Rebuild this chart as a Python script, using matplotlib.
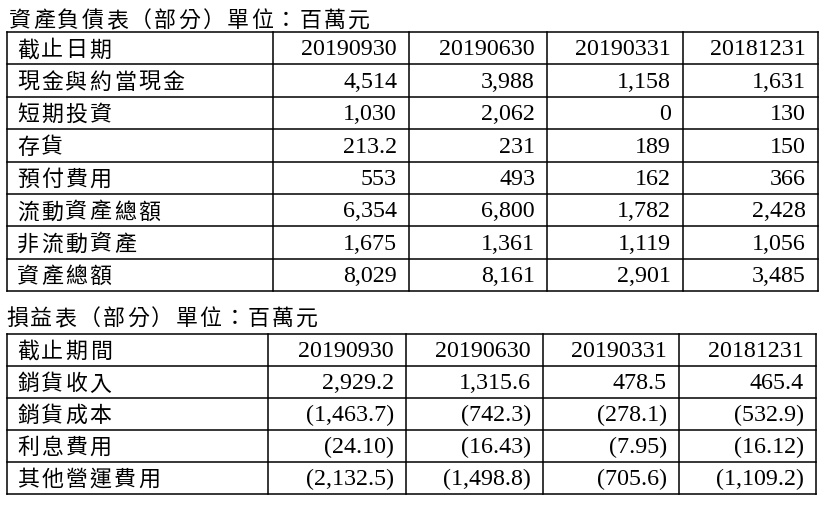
import numpy as np
import matplotlib.pyplot as plt

CJK = ['Noto Sans CJK TC', 'DejaVu Sans']
NUM = ['Liberation Serif', 'DejaVu Serif']

periods = ["20190930", "20190630", "20190331", "20181231"]

bs_title = "資產負債表（部分）單位：百萬元"
bs_head = "截止日期"
bs_items = ["現金與約當現金", "短期投資", "存貨", "預付費用",
            "流動資產總額", "非流動資產", "資產總額"]
cash = [4514, 3988, 1158, 1631]
short_inv = [1030, 2062, 0, 130]
inventory = [213.2, 231, 189, 150]
prepaid = [553, 493, 162, 366]
current_assets = [6354, 6800, 1782, 2428]
noncurrent_assets = [1675, 1361, 1119, 1056]
total_assets = [8029, 8161, 2901, 3485]

is_title = "損益表（部分）單位：百萬元"
is_head = "截止期間"
is_items = ["銷貨收入", "銷貨成本", "利息費用", "其他營運費用"]
revenue = [2929.2, 1315.6, 478.5, 465.4]
cogs = [-1463.7, -742.3, -278.1, -532.9]
interest = [-24.10, -16.43, -7.95, -16.12]
other_opex = [-2132.5, -1498.8, -705.6, -1109.2]
is_decimals = [1, 1, 2, 1]

PITCH = 24.2  # px per CJK character, the source uses wide letter spacing


def fmt_bs(v):
    return f"{v:,}"


def fmt_is(v, d):
    s = f"{abs(v):,.{d}f}"
    return f"({s})" if v < 0 else s


def spaced_text(ax, x, y, s, size):
    for k, ch in enumerate(s):
        ax.text(x + k * PITCH, y, ch, family=CJK, fontsize=size,
                va='baseline', ha='left')


def draw_table(ax, title, head, rows, left, top, widths, row_h,
               title_x, title_y):
    """Draws one bordered table in pixel coordinates."""
    spaced_text(ax, title_x, title_y, title, 15.8)
    xs = left + np.concatenate([[0], np.cumsum(widths)])
    n = len(rows) + 1
    ys = top + row_h * np.arange(n + 1)
    for y in ys:
        ax.plot([xs[0], xs[-1]], [y, y], color='black', lw=1.1,
                solid_capstyle='projecting')
    for x in xs:
        ax.plot([x, x], [ys[0], ys[-1]], color='black', lw=1.1,
                solid_capstyle='projecting')
    all_rows = [(head, periods)] + rows
    for i, (label, cells) in enumerate(all_rows):
        base = ys[i + 1] - 9
        spaced_text(ax, xs[0] + 10, base + 1, label, 15.8)
        for j, c in enumerate(cells):
            ax.text(xs[j + 2] - 12, base, c, family=NUM, fontsize=17.3,
                    va='baseline', ha='right')


fig = plt.figure(figsize=(8.26, 5.05), dpi=100)
ax = fig.add_axes([0, 0, 1, 1])
ax.set_xlim(0, 826)
ax.set_ylim(505, 0)
ax.axis('off')

bs_values = [cash, short_inv, inventory, prepaid,
             current_assets, noncurrent_assets, total_assets]
bs_rows = [(name, [fmt_bs(v) for v in vals])
           for name, vals in zip(bs_items, bs_values)]
draw_table(ax, bs_title, bs_head, bs_rows, 7, 32,
           [266, 136, 138, 136, 135], 32.4, 9, 27)

is_values = [revenue, cogs, interest, other_opex]
is_rows = [(name, [fmt_is(v, d) for v in vals])
           for name, vals, d in zip(is_items, is_values, is_decimals)]
draw_table(ax, is_title, is_head, is_rows, 7, 334,
           [261, 138, 137, 136, 137], 32, 6, 325)

fig.savefig("out.png", dpi=100, facecolor='white')
